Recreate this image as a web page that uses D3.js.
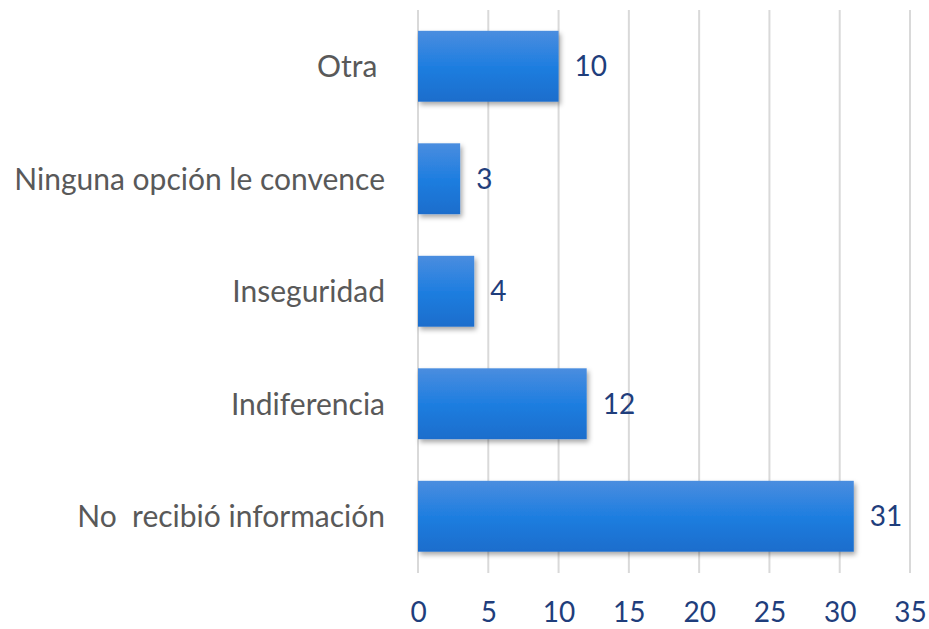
<!DOCTYPE html>
<html><head><meta charset="utf-8">
<script src="https://cdn.jsdelivr.net/npm/d3@7"></script>
<style>body{margin:0;background:#fff}svg{display:block}text{white-space:pre}</style>
</head><body>
<script>
const categories = ["Otra ", "Ninguna opción le convence", "Inseguridad", "Indiferencia", "No  recibió información"];
const values = [10, 3, 4, 12, 31];
const tickValues = [0, 5, 10, 15, 20, 25, 30, 35];

const W = 929, H = 629;
const svg = d3.select("body").append("svg").attr("width", W).attr("height", H);
const defs = svg.append("defs");
const grad = defs.append("linearGradient").attr("id", "bg").attr("x1", 0).attr("y1", 0).attr("x2", 0).attr("y2", 1);
grad.append("stop").attr("offset", "0%").attr("stop-color", "#4a8ddf");
grad.append("stop").attr("offset", "50%").attr("stop-color", "#1f7ee0");
grad.append("stop").attr("offset", "100%").attr("stop-color", "#1a6dcc");
const f = defs.append("filter").attr("id", "sh").attr("x", "-10%").attr("y", "-20%").attr("width", "130%").attr("height", "150%");
f.append("feDropShadow").attr("dx", 2).attr("dy", 3).attr("stdDeviation", 2.5).attr("flood-color", "#000").attr("flood-opacity", 0.35);

const x = d3.scaleLinear().domain([0, 35]).range([418, 910]);
const y = d3.scaleBand().domain(categories).range([10, 572.5]).paddingInner(0.37).paddingOuter(0.185);

const font = "Lato, 'Source Sans Pro', sans-serif";

// gridlines
svg.append("g").selectAll("line").data(tickValues).join("line")
  .attr("x1", d => x(d)).attr("x2", d => x(d)).attr("y1", 10).attr("y2", 573)
  .attr("stroke", "#d9d9d9").attr("stroke-width", 2);

// bars
svg.append("g").selectAll("rect").data(values).join("rect")
  .attr("x", x(0)).attr("y", (d, i) => y(categories[i]))
  .attr("width", d => x(d) - x(0)).attr("height", y.bandwidth())
  .attr("fill", "url(#bg)").attr("filter", "url(#sh)");

// value labels
svg.append("g").selectAll("text").data(values).join("text")
  .attr("x", d => x(d) + 16).attr("y", (d, i) => y(categories[i]) + y.bandwidth() / 2)
  .attr("dy", "0.36em").attr("font-family", font).attr("font-size", 28)
  .attr("fill", "#1f3e7c").text(d => d);

// category labels
svg.append("g").selectAll("text").data(categories).join("text")
  .attr("x", 385).attr("y", d => y(d) + y.bandwidth() / 2)
  .attr("dy", "0.36em").attr("text-anchor", "end").attr("font-family", font).attr("font-size", 30)
  .attr("fill", "#595959").text(d => d);

// x axis
const ax = svg.append("g").attr("transform", "translate(0,573)")
  .call(d3.axisBottom(x).tickValues(tickValues).tickSize(0).tickPadding(29));
ax.select(".domain").remove();
ax.selectAll("text").attr("font-family", font).attr("font-size", 28).attr("fill", "#1f3e7c");
</script>
</body></html>
